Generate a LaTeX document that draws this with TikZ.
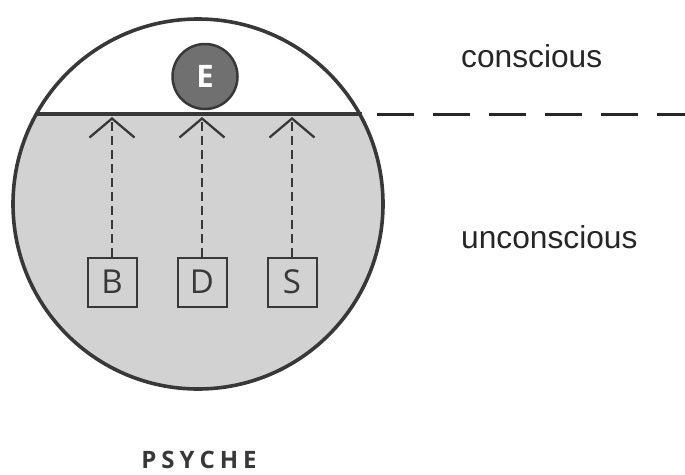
\documentclass[tikz,border=0pt]{standalone}
\usepackage{fontspec}
\setmainfont{Liberation Sans}
\newfontfamily\opensans{Open Sans}
\usetikzlibrary{arrows.meta}
\definecolor{inkc}{HTML}{383838}
\definecolor{fillg}{HTML}{D2D2D2}
\definecolor{egray}{HTML}{707070}
\begin{document}
\begin{tikzpicture}[x=1pt,y=-1pt,
  letterbox/.style={draw=inkc,line width=2pt,minimum size=49pt,inner sep=0pt,
    font=\opensans\fontsize{33}{35}\selectfont,text=inkc},
  uparrow/.style={draw=inkc,line width=2.3pt,dash pattern=on 9pt off 5pt,
    -{Straight Barb[length=19pt,width=45pt,line width=2.3pt]}},
  lbl/.style={anchor=base west,inner sep=0pt,font=\fontsize{31.7}{36}\selectfont,text=black!85}]
\useasboundingbox (0,0) rectangle (685,474);
% lower (unconscious) segment
\begin{scope}
  \clip (198,204) circle (185);
  \fill[fillg] (0,114) rectangle (400,400);
\end{scope}
\draw[inkc,line width=3.6pt] (198,204) circle (185);
\coordinate (cl) at (37,114);
\coordinate (cr) at (362,114);
\draw[inkc,line width=3.2pt] (cl) -- (cr);
\coordinate (ds) at (377,114);
\coordinate (de) at (685,114);
\draw[black!85,line width=3pt,dash pattern=on 37pt off 19pt] (ds) -- (de);
% ego
\node[circle,fill=egray,draw=inkc,line width=2.5pt,minimum size=65pt,inner sep=0pt,
  text=white,font=\opensans\bfseries\fontsize{31}{33}\selectfont] (E) at (205,76.5) {E};
% boxes
\node[letterbox] (B) at (112,282) {B};
\node[letterbox] (D) at (202,282) {D};
\node[letterbox] (S) at (292,282) {S};
\coordinate (tB) at (112,117);
\coordinate (tD) at (202,117);
\coordinate (tS) at (292,117);
\draw[uparrow] (B.north) -- (tB);
\draw[uparrow] (D.north) -- (tD);
\draw[uparrow] (S.north) -- (tS);
% labels
\node[lbl] (con) at (461,67) {conscious};
\node[lbl] (uncon) at (461,248) {unconscious};
\node[anchor=base,inner sep=0pt,text=inkc,font=\opensans\bfseries\fontsize{24}{26}\selectfont] (psy) at (199,468)
  {P\kern5pt S\kern5pt Y\kern5pt C\kern5pt H\kern5pt E};
\end{tikzpicture}
\end{document}
